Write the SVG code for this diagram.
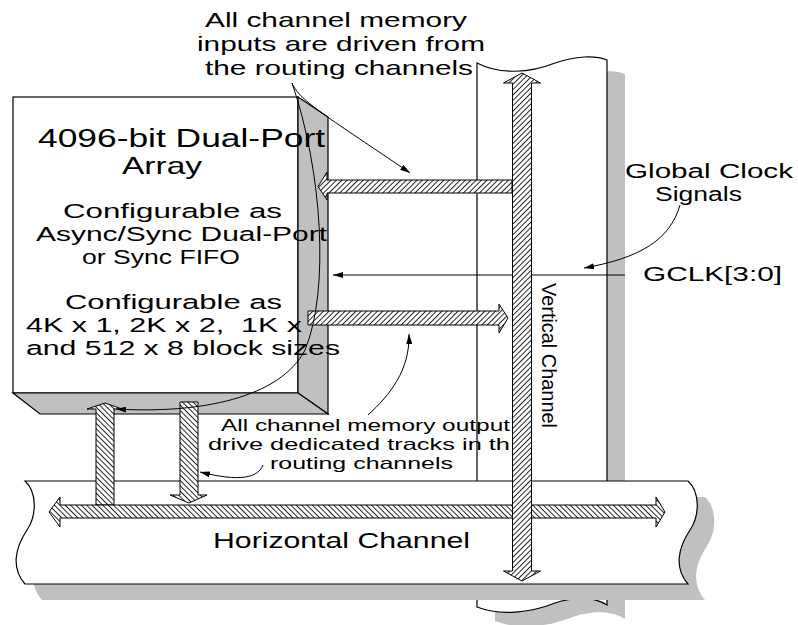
<svg xmlns="http://www.w3.org/2000/svg" width="798" height="625" viewBox="0 0 798 625">
<style>
text{font-family:"Liberation Sans",Arial,sans-serif;fill:#000}
.ln{fill:none;stroke:#000;stroke-width:1}
.sh{fill:#c0c0c0;stroke:none}
.ch{fill:#fff;stroke:#000;stroke-width:1.2}
.face{fill:#c0c0c0;stroke:#000;stroke-width:1.2}
.hf{fill:url(#hatchF);stroke:#000;stroke-width:1}
.hb{fill:url(#hatchB);stroke:#000;stroke-width:1}
</style>
<defs>
<pattern id="hatchF" width="3.8" height="3.8" patternUnits="userSpaceOnUse" patternTransform="rotate(45)">
<rect width="3.8" height="3.8" fill="#fff"/><line x1="0.5" y1="0" x2="0.5" y2="3.8" stroke="#000" stroke-width="0.85"/>
</pattern>
<pattern id="hatchB" width="3.8" height="3.8" patternUnits="userSpaceOnUse" patternTransform="rotate(-45)">
<rect width="3.8" height="3.8" fill="#fff"/><line x1="0.5" y1="0" x2="0.5" y2="3.8" stroke="#000" stroke-width="0.85"/>
</pattern>
<marker id="ah" viewBox="0 0 10 6" refX="10" refY="3" markerWidth="10" markerHeight="6" markerUnits="userSpaceOnUse" orient="auto">
<path d="M0,0 L10,3 L0,6 Z" fill="#000"/>
</marker>
</defs>

<g id="vertical-channel">
<path class="sh" transform="translate(18,14)" d="M477,63 C500,75 530,73 555,63 C575,56 595,55 607,60 L607,605 C595,597 575,596 555,603 C530,613 500,616 477,607 Z"/>
<path class="ch" d="M477,63 C500,75 530,73 555,63 C575,56 595,55 607,60 L607,605 C595,597 575,596 555,603 C530,613 500,616 477,607 Z"/>
</g>

<g id="horizontal-channel">
<path class="sh" transform="translate(17,16)" d="M25,481 L688,481 C700,492 700,515 690,530 C678,548 674,568 688,584 L25,584 C11,568 15,548 27,530 C37,515 37,492 25,481 Z"/>
<path class="ch" d="M25,481 L688,481 C700,492 700,515 690,530 C678,548 674,568 688,584 L25,584 C11,568 15,548 27,530 C37,515 37,492 25,481 Z"/>
<text x="213" y="548" font-size="22" textLength="257" lengthAdjust="spacingAndGlyphs">Horizontal Channel</text>
</g>

<g id="memory-block">
<rect x="13" y="97" width="285" height="296" fill="#fff" stroke="#000" stroke-width="1.2"/>
<polygon class="face" points="298,97 328,117 328,414 298,393"/>
<polygon class="face" points="13,393 298,393 328,414 40,414"/>
<text x="38" y="147" font-size="25" textLength="287" lengthAdjust="spacingAndGlyphs">4096-bit Dual-Port</text>
<text x="122" y="174" font-size="24" textLength="80" lengthAdjust="spacingAndGlyphs">Array</text>
<text x="63" y="218" font-size="20.5" textLength="219" lengthAdjust="spacingAndGlyphs">Configurable as</text>
<text x="36" y="241" font-size="20.5" textLength="291" lengthAdjust="spacingAndGlyphs">Async/Sync Dual-Port</text>
<text x="82" y="264" font-size="20.5" textLength="158" lengthAdjust="spacingAndGlyphs">or Sync FIFO</text>
<text x="65" y="309" font-size="20.5" textLength="217" lengthAdjust="spacingAndGlyphs">Configurable as</text>
<text x="26" y="332" font-size="20.5" textLength="276" lengthAdjust="spacingAndGlyphs" style="white-space:pre">4K x 1, 2K x 2,  1K x</text>
<text x="26" y="355" font-size="20.5" textLength="314" lengthAdjust="spacingAndGlyphs">and 512 x 8 block sizes</text>
</g>

<g id="labels">
<text x="205" y="27" font-size="21" textLength="262" lengthAdjust="spacingAndGlyphs">All channel memory</text>
<text x="197" y="51" font-size="21" textLength="288" lengthAdjust="spacingAndGlyphs">inputs are driven from</text>
<text x="205" y="75" font-size="21" textLength="268" lengthAdjust="spacingAndGlyphs">the routing channels</text>
<text x="625" y="178" font-size="19.5" textLength="168" lengthAdjust="spacingAndGlyphs">Global Clock</text>
<text x="655" y="200.5" font-size="19.5" textLength="87" lengthAdjust="spacingAndGlyphs">Signals</text>
<text x="643" y="281" font-size="21" textLength="139" lengthAdjust="spacingAndGlyphs">GCLK[3:0]</text>
<text x="221" y="431" font-size="16.5" textLength="289" lengthAdjust="spacingAndGlyphs">All channel memory output</text>
<text x="208" y="450" font-size="16.5" textLength="302" lengthAdjust="spacingAndGlyphs">drive dedicated tracks in th</text>
<text x="270" y="469" font-size="16.5" textLength="183" lengthAdjust="spacingAndGlyphs">routing channels</text>
<text transform="translate(542,283) rotate(90)" font-size="20" textLength="145" lengthAdjust="spacingAndGlyphs">Vertical Channel</text>
</g>

<g id="connectors">
<line class="ln" x1="625" y1="275" x2="333" y2="275" marker-end="url(#ah)"/>
<polygon id="input-bus" class="hf" points="318,186.5 327,172 327,180 512,180 512,193 327,193 327,200"/>
<polygon id="output-bus" class="hf" points="308,311 499,311 499,304 508,318 499,333 499,325 308,325"/>
<polygon id="up-bus" class="hb" points="105,403 122,409 114,409 114,505 96,505 96,409 87,409"/>
<polygon id="down-bus" class="hb" points="180,402 198,402 198,495 207,495 189,503 170,495 180,495"/>
<polygon id="horizontal-bus" class="hb" points="49,512 60,497 60,505 656,505 656,497 665,512 656,527 656,518 60,518 60,527"/>
<polygon id="vertical-bus" class="hf" points="522,73 540.5,83 531.5,83 531.5,571 540.5,571 522,581 503.5,571 512.5,571 512.5,83 503.5,83"/>
<path class="ln" d="M680,205 C670,240 640,258 584,268" marker-end="url(#ah)"/>
<path class="ln" d="M292,83 C300,102 330,118 410,173" marker-end="url(#ah)"/>
<path class="ln" d="M292,83 C322,170 330,290 305,350 C280,398 200,414 116,409" marker-end="url(#ah)"/>
<path class="ln" d="M263,465 C258,478 240,482 200,472" marker-end="url(#ah)"/>
<path class="ln" d="M368,415 C390,395 410,370 409,334" marker-end="url(#ah)"/>
</g>
</svg>
